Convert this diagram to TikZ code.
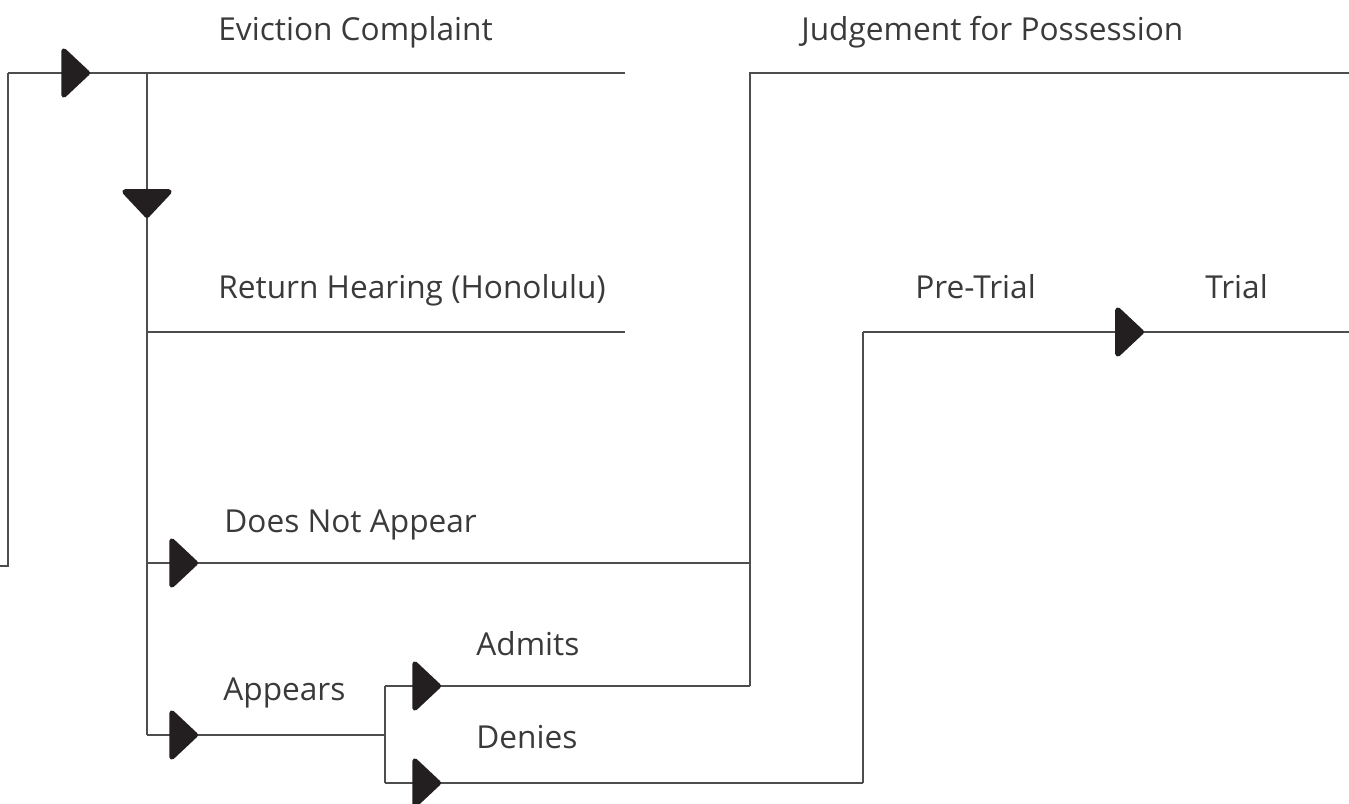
\documentclass[tikz,border=0pt]{standalone}
\usepackage{fontspec}
\setmainfont{Open Sans}
\usepackage{xcolor}
\usepackage{tikz}
\usetikzlibrary{arrows.meta, decorations.markings}
\definecolor{wire}{HTML}{4D4D4D}
\definecolor{ink}{HTML}{231F20}
\definecolor{txt}{HTML}{3A3A3A}
\tikzset{
  lbl/.style   = {anchor=base west, inner sep=0pt, text=txt, font=\fontsize{18}{22}\selectfont},
  wireline/.style = {draw=wire, line width=1.1pt, line join=miter},
  flow/.style  = {wireline, postaction={decorate},
                  decoration={markings, mark=at position #1 with
                  {\arrow[ink]{Triangle[length=0.6cm, width=1.1cm, line width=3pt, round]}}}},
}
\begin{document}
\begin{tikzpicture}[x=0.02cm, y=-0.02cm]
  \useasboundingbox (0,0) rectangle (1349,804);

  % junction points
  \coordinate (in0) at (0,566);
  \coordinate (in1) at (8,566);
  \coordinate (top) at (8,73);
  \coordinate (sp)  at (147,73);
  \coordinate (ecEnd) at (625,73);
  \coordinate (rh)  at (147,332);
  \coordinate (rhEnd) at (625,332);
  \coordinate (dna) at (147,563);
  \coordinate (app) at (147,735);
  \coordinate (fork) at (385,735);
  \coordinate (adm) at (385,686);
  \coordinate (den) at (385,783);
  \coordinate (jpLow) at (750,686);
  \coordinate (jpMid) at (750,563);
  \coordinate (jpTop) at (750,73);
  \coordinate (jpEnd) at (1349,73);
  \coordinate (ptLow) at (863,783);
  \coordinate (ptTop) at (863,332);
  \coordinate (trEnd) at (1349,332);

  % labels
  \node[lbl] (ec) at (218,41)  {Eviction Complaint};
  \node[lbl] (jp) at (801,41)  {Judgement for Possession};
  \node[lbl] (rhl) at (218,298) {Return Hearing (Honolulu)};
  \node[lbl] (pt) at (915,298) {Pre-Trial};
  \node[lbl] (tr) at (1205,298) {Trial};
  \node[lbl] (dn) at (224,532) {Does Not Appear};
  \node[lbl] (ap) at (223,700) {Appears};
  \node[lbl] (ad) at (476,655) {Admits};
  \node[lbl] (de) at (476,748) {Denies};

  % complaint and return hearing
  \draw[wireline] (in0) -- (in1) -- (top);
  \draw[flow=1.64cm] (top) -- (ecEnd);
  \draw[flow=2.9cm] (sp) -- (app);
  \draw[wireline] (rh) -- (rhEnd);

  % outcomes
  \draw[flow=1.02cm] (dna) -- (jpMid);
  \draw[flow=1.02cm] (app) -- (fork);
  \draw[wireline] (adm) -- (den);
  \draw[flow=1.12cm] (adm) -- (jpLow);
  \draw[flow=1.12cm] (den) -- (ptLow);

  % possession and trial
  \draw[wireline] (jpLow) -- (jpTop) -- (jpEnd);
  \draw[wireline] (ptLow) -- (ptTop);
  \draw[flow=5.62cm] (ptTop) -- (trEnd);

\end{tikzpicture}
\end{document}
